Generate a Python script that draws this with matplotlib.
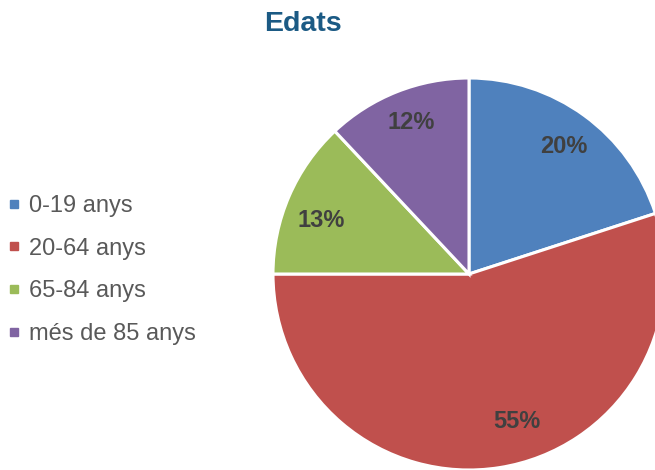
"""Pie chart of age groups ("Edats")."""

import numpy as np
import matplotlib

matplotlib.use("Agg")
import matplotlib.pyplot as plt
from matplotlib.lines import Line2D

plt.rcParams["font.family"] = ["Liberation Sans", "DejaVu Sans"]

# Data
GROUPS = ["0-19 anys", "20-64 anys", "65-84 anys", "més de 85 anys"]
SHARES = [20, 55, 13, 12]
COLORS = ["#4f81bd", "#c0504d", "#9bbb59", "#8064a2"]

W, H = 655, 470
CENTER = (469, H - 274)
RADIUS = 196
# Excel "best fit" nudges the labels off the mid-angle: (radius fraction, angle deg)
LABEL_POLAR = [(0.81, 53.5), (0.79, -72.0), (0.80, 160.0), (0.83, 111.0)]


def main() -> None:
    fig = plt.figure(figsize=(W / 100, H / 100), dpi=100)
    # axes in pixel units so the pie can sit partly off the canvas, like the original
    ax = fig.add_axes([0, 0, 1, 1])
    _, _, autotexts = ax.pie(
        SHARES,
        colors=COLORS,
        startangle=90,
        counterclock=False,
        center=CENTER,
        radius=RADIUS,
        autopct="%d%%",
        pctdistance=0.81,
        wedgeprops=dict(edgecolor="white", linewidth=2.2),
        textprops=dict(fontsize=17, fontweight="bold", color="#404040"),
    )
    for txt, (frac, ang) in zip(autotexts, LABEL_POLAR):
        a = np.deg2rad(ang)
        txt.set_position((CENTER[0] + frac * RADIUS * np.cos(a),
                          CENTER[1] + frac * RADIUS * np.sin(a)))
    ax.set_xlim(0, W)
    ax.set_ylim(0, H)
    ax.set_aspect("equal")
    ax.axis("off")

    fig.text(303 / W, 1 - 24 / H, "Edats", ha="center", va="center",
             fontsize=20.5, fontweight="bold", color="#1b5a84")

    handles = [
        Line2D([], [], marker="s", linestyle="none", markersize=5.5,
               markerfacecolor=c, markeredgecolor=c)
        for c in COLORS
    ]
    fig.legend(
        handles, GROUPS,
        loc="center left",
        bbox_to_anchor=(8 / W, 1 - 270 / H),
        frameon=False,
        fontsize=17,
        labelcolor="#595959",
        handlelength=0.55,
        handletextpad=0.35,
        labelspacing=0.87,
        borderpad=0,
        borderaxespad=0,
    )

    fig.savefig("out.png", dpi=100)


if __name__ == "__main__":
    main()
